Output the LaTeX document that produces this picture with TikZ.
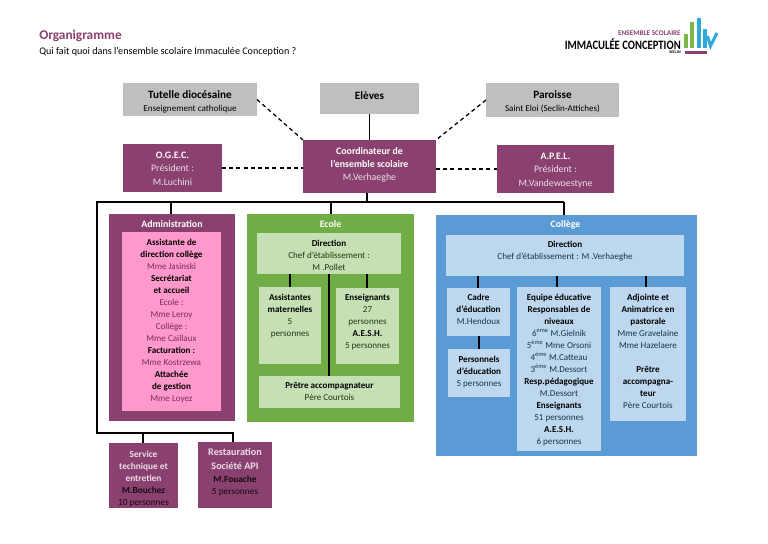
\documentclass[tikz,border=0pt]{standalone}
\usepackage{fontspec}
\usepackage{graphicx}
\setmainfont{Carlito}
\usetikzlibrary{fit}
\definecolor{prp}{HTML}{8A4170}
\definecolor{prpt}{HTML}{8A4170}
\definecolor{lite}{HTML}{EBDDE6}
\definecolor{gry}{HTML}{BFBFBF}
\definecolor{pnk}{HTML}{FF99CC}
\definecolor{pnkt}{HTML}{7A2A5C}
\definecolor{grn}{HTML}{70AD47}
\definecolor{lgrn}{HTML}{C5E0B4}
\definecolor{blu}{HTML}{5B9BD5}
\definecolor{lblu}{HTML}{BDD7EE}
\definecolor{dgt}{HTML}{1F3A12}
\definecolor{dbt}{HTML}{1B3550}
\definecolor{logob}{HTML}{2FA9D8}
\definecolor{logog}{HTML}{7AB648}
\newcommand\bx[6]{\node[panel,fit={(#3,#4)(#5,#6)},fill=#2] (#1) {};}
\tikzset{
  panel/.style={inner sep=0pt,outer sep=0pt,draw=none},
  lines/.style={inner sep=0pt,outer sep=0pt,anchor=north,align=center,yshift=1.9pt,font=\fontsize{6.8}{9}\selectfont,execute at begin node=\strut},
  toplines/.style={lines,font=\fontsize{7.4}{9.6}\selectfont},
  svc/.style={lines,font=\fontsize{7}{9}\selectfont},
  head/.style={lines,font=\fontsize{8.4}{9}\selectfont\bfseries},
  headw/.style={inner sep=0pt,font=\fontsize{7.4}{9}\selectfont\bfseries,text=white},
  solidline/.style={draw=black,line width=0.9pt},
  dashline/.style={draw=black,line width=0.95pt,dash pattern=on 3pt off 2.4pt},
}
\begin{document}
\begin{tikzpicture}[x=0.75pt,y=-0.75pt]
\useasboundingbox[fill=white] (0,0) rectangle (768,543);
% titles
\node[inner sep=0pt,anchor=west,text=prpt,font=\fontsize{10}{12}\selectfont\bfseries] (title) at (39,36) {Organigramme};
\node[inner sep=0pt,anchor=west,font=\fontsize{7.6}{10}\selectfont] (sub) at (39,52) {Qui fait quoi dans l’ensemble scolaire Immaculée Conception ?};
% logo
\node[inner sep=0pt,anchor=east,text=prp,font=\fontsize{5.4}{6}\selectfont\bfseries] (logoa) at (681,33.5) {ENSEMBLE SCOLAIRE};
\node[inner sep=0pt,anchor=east,font=\fontsize{9.6}{10}\selectfont\bfseries] (logob) at (681,44) {\scalebox{0.83}[1]{IMMACULÉE CONCEPTION}};
\node[inner sep=0pt,anchor=east,font=\fontsize{3}{4}\selectfont\bfseries] (logoc) at (681,52.5) {SECLIN};
\fill[logog] (684,34) rectangle (687.5,48);
\fill[logog] (690,22) rectangle (694,48);
\fill[logob] (697,18) rectangle (700.5,48);
\fill[logob] (703,29) rectangle (706.5,48);
\draw[logob,line width=2.2pt] (707.5,36) -- (710.5,46) -- (717,33);
\fill[prp] (685,51) rectangle (707,54);
% top boxes
\bx{tut}{gry}{123}{83}{257}{116}
\bx{ele}{gry}{320}{83}{419}{114}
\bx{par}{gry}{486}{83}{619}{117}
\bx{ogec}{prp}{123}{144}{222}{192}
\bx{coord}{prp}{303}{140}{436}{193}
\bx{apel}{prp}{497}{145}{614}{193}
% panels
\bx{adm}{prp}{109}{214}{235}{421}
\bx{pink}{pnk}{122}{232}{221}{411}
\bx{eco}{grn}{247}{214}{414}{422}
\bx{ecodir}{lgrn}{257}{233}{401}{274}
\bx{assi}{lgrn}{259}{287}{321}{364}
\bx{ensg}{lgrn}{336}{288}{399}{364}
\bx{pretre}{lgrn}{259}{376}{400}{408}
\bx{col}{blu}{436}{215}{697}{456}
\bx{coldir}{lblu}{446}{235}{684}{276}
\bx{cadre}{lblu}{447}{288}{510}{336}
\bx{pers}{lblu}{448}{349}{510}{397}
\bx{equipe}{lblu}{517}{287}{601}{451}
\bx{adj}{lblu}{610}{287}{686}{421}
\bx{serv}{prp}{109}{443}{178}{508}
\bx{rest}{prp}{198}{442}{272}{508}
% connector points
\coordinate (busc) at (367,202);
\coordinate (busl) at (97,202);
\coordinate (busb) at (97,433);
\coordinate (busr) at (233,433);
\coordinate (busm) at (143,433);
\coordinate (busa) at (171,202);
\coordinate (buse) at (331,202);
\coordinate (buso) at (564,202);
% connectors
\draw[dashline] (tut.east) -- (coord.north west);
\draw[dashline] (par.west) -- (coord.north east);
\draw[dashline] (ogec.east) -- (ogec.east -| coord.west);
\draw[dashline] (coord.east |- apel.west) -- (apel.west);
\draw[solidline] (ele.south) -- (ele.south |- coord.north);
\draw[solidline] (busc |- coord.south) -- (busc);
\draw[solidline] (buso) -- (busl) -- (busb) -- (busr) -- (busr |- rest.north);
\draw[solidline] (busm) -- (busm |- serv.north);
\draw[solidline] (busa) -- (busa |- adm.north);
\draw[solidline] (buse) -- (buse |- eco.north);
\draw[solidline] (buso) -- (buso |- col.north);
\coordinate (e1) at (290,274);
\coordinate (e2) at (367,274);
\coordinate (e3) at (329,274);
\draw[solidline] (e1) -- (e1 |- assi.north);
\draw[solidline] (e2) -- (e2 |- ensg.north);
\draw[solidline] (e3) -- (e3 |- pretre.north);
\coordinate (c1) at (478,276);
\coordinate (c2) at (557,276);
\coordinate (c3) at (646,276);
\coordinate (c4) at (479,336);
\draw[solidline] (c1) -- (c1 |- cadre.north);
\draw[solidline] (c2) -- (c2 |- equipe.north);
\draw[solidline] (c3) -- (c3 |- adj.north);
\draw[solidline] (c4) -- (c4 |- pers.north);
% texts: top row
\node[head] (t1) at (190,93) {Tutelle diocésaine};
\node[lines] (t2) at (190,106) {Enseignement catholique};
\node[head] (t3) at (369.5,94) {Elèves};
\node[head] (t4) at (552.5,93) {Paroisse};
\node[lines] (t5) at (552.5,106) {Saint Eloi (Seclin-Attiches)};
\node[toplines,text=lite] (t6) at (172.5,155) {\textcolor{white}{\textbf{O.G.E.C.}}\\Président :\\[0.6pt]M.Luchini};
\node[toplines,text=lite] (t7) at (369.5,150) {\textcolor{white}{\textbf{Coordinateur de}}\\[0.6pt]\textcolor{white}{\textbf{l’ensemble scolaire}}\\M.Verhaeghe};
\node[toplines,text=lite] (t8) at (555.5,156) {\textcolor{white}{\textbf{A.P.E.L.}}\\Président :\\[0.6pt]M.Vandewoestyne};
% Administration
\node[headw] (t9) at (172,224) {Administration};
\node[lines,text=pnkt] (t10) at (171.5,242) {\textcolor{black}{\textbf{Assistante de}}\\\textcolor{black}{\textbf{direction collège}}\\Mme Jasinski\\\textcolor{black}{\textbf{Secrétariat}}\\\textcolor{black}{\textbf{et accueil}}\\Ecole :\\Mme Leroy\\Collège :\\Mme Caillaux\\\textcolor{black}{\textbf{Facturation :}}\\Mme Kostrzewa\\\textcolor{black}{\textbf{Attachée}}\\\textcolor{black}{\textbf{de gestion}}\\Mme Loyez};
% Ecole
\node[headw] (t11) at (330.5,224) {Ecole};
\node[lines,text=dgt] (t12) at (329,243) {\textcolor{black}{\textbf{Direction}}\\Chef d’établissement :\\M .Pollet};
\node[lines,text=dgt] (t13) at (290,297) {\textcolor{black}{\textbf{Assistantes}}\\\textcolor{black}{\textbf{maternelles}}\\5\\personnes};
\node[lines,text=dgt] (t14) at (367.5,297) {\textcolor{black}{\textbf{Enseignants}}\\27\\personnes\\\textcolor{black}{\textbf{A.E.S.H.}}\\5 personnes};
\node[lines,text=dgt] (t15) at (329.5,385) {\textcolor{black}{\textbf{Prêtre accompagnateur}}\\Père Courtois};
% College
\node[headw] (t16) at (565.5,225) {Collège};
\node[lines,text=dbt] (t17) at (565,244) {\textcolor{black}{\textbf{Direction}}\\Chef d’établissement : M .Verhaeghe};
\node[lines,text=dbt] (t18) at (478.5,297) {\textcolor{black}{\textbf{Cadre}}\\\textcolor{black}{\textbf{d’éducation}}\\M.Hendoux};
\node[lines,text=dbt] (t19) at (479,359) {\textcolor{black}{\textbf{Personnels}}\\\textcolor{black}{\textbf{d’éducation}}\\5 personnes};
\node[lines,text=dbt] (t20) at (559,297) {\textcolor{black}{\textbf{Equipe éducative}}\\\textcolor{black}{\textbf{Responsables de}}\\\textcolor{black}{\textbf{niveaux}}\\6\textsuperscript{ème} M.Gielnik\\5\textsuperscript{ème} Mme Orsoni\\4\textsuperscript{ème} M.Catteau\\3\textsuperscript{ème} M.Dessort\\\textcolor{black}{\textbf{Resp.pédagogique}}\\M.Dessort\\\textcolor{black}{\textbf{Enseignants}}\\51 personnes\\\textcolor{black}{\textbf{A.E.S.H.}}\\6 personnes};
\node[lines,text=dbt] (t21) at (648,297) {\textcolor{black}{\textbf{Adjointe et}}\\\textcolor{black}{\textbf{Animatrice en}}\\\textcolor{black}{\textbf{pastorale}}\\Mme Gravelaine\\Mme Hazelaere\\~\\\textcolor{black}{\textbf{Prêtre}}\\\textcolor{black}{\textbf{accompagna-}}\\\textcolor{black}{\textbf{teur}}\\Père Courtois};
% bottom
\node[svc,text=black!85!prp] (t22) at (143.5,453) {\textcolor{lite}{\textbf{Service}}\\\textcolor{lite}{\textbf{technique et}}\\\textcolor{lite}{\textbf{entretien}}\\\textbf{M.Bouchez}\\10 personnes};
\node[headw,text=lite,font=\fontsize{7.6}{9}\selectfont\bfseries] (t23) at (235,452) {Restauration};
\node[headw,text=lite,font=\fontsize{7.6}{9}\selectfont\bfseries] (t24) at (235,466) {Société API};
\node[svc,text=black!85!prp] (t25) at (235,478) {\textbf{M.Fouache}\\5 personnes};
\end{tikzpicture}
\end{document}
